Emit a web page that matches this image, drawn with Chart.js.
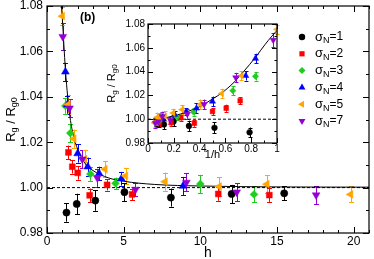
<!DOCTYPE html>
<html><head><meta charset="utf-8">
<script src="https://cdn.jsdelivr.net/npm/chart.js@4/dist/chart.umd.min.js"></script>
<style>
html,body{margin:0;padding:0;background:#fff;}
#wrap{position:relative;width:374px;height:259px;overflow:hidden;background:#fff;}
#main{position:absolute;left:0;top:0;}
#inset{position:absolute;left:100px;top:14px;}
</style></head><body>
<div id="wrap"><canvas id="main" width="374" height="259"></canvas><canvas id="inset" width="185" height="150"></canvas></div>
<script>
// ---------------- data ----------------
const sigmaN = [1, 2, 3, 4, 5, 7];

const h_s1 = [1.27, 1.94, 3.15, 5.05, 8.08, 12.04, 15.47];
const r_s1 = [0.989, 0.9928, 0.9943, 0.998, 0.9956, 0.9972, 0.9975];
const e_s1 = [0.004, 0.0045, 0.0045, 0.004, 0.004, 0.004, 0.003];

const h_s2 = [1.40, 1.65, 2.0, 2.78, 3.92, 5.55, 11.17, 14.5];
const r_s2 = [1.0155, 1.0092, 1.0065, 0.9966, 1.0012, 0.997, 0.9972, 0.9967];
const e_s2 = [0.003, 0.003, 0.003, 0.003, 0.0025, 0.0025, 0.003, 0.003];

const h_s3 = [1.2, 1.52, 2.83, 4.47, 10.0, 13.5];
const r_s3 = [1.036, 1.024, 1.006, 1.0019, 1.0016, 0.997];
const e_s3 = [0.0035, 0.004, 0.003, 0.0025, 0.004, 0.0035];

const h_s4 = [1.2, 1.32, 2.0, 2.66, 3.4, 4.85, 8.87];
const r_s4 = [1.051, 1.0365, 1.015, 1.0092, 1.0062, 1.0039, 1.0007];
const e_s4 = [0.004, 0.004, 0.004, 0.004, 0.003, 0.003, 0.004];

const h_s5 = [1.0, 1.38, 1.75, 2.46, 3.78, 5.12, 7.7, 11.23, 14.34, 19.8];
const r_s5 = [1.0755, 1.0366, 1.0215, 1.0125, 1.0081, 1.0052, 1.0026, 1.0005, 1.0015, 0.997];
const e_s5 = [0.004, 0.004, 0.004, 0.004, 0.0035, 0.0035, 0.004, 0.004, 0.004, 0.0035];

const h_s7 = [1.03, 1.47, 2.3, 3.28, 5.77, 9.09, 12.37, 17.55];
const r_s7 = [1.0665, 1.035, 1.0125, 1.0043, 0.9992, 1.0023, 0.998, 0.9967];
const e_s7 = [0.006, 0.004, 0.004, 0.004, 0.003, 0.004, 0.004, 0.004];

// fitted curve
const fitH = [0.94, 1.0, 1.1, 1.2, 1.35, 1.5, 1.75, 2.0, 2.5, 3.0, 4.0, 5.0, 7.0, 10, 15, 21];
const fitR = [1.080, 1.0745, 1.063, 1.052, 1.040, 1.031, 1.022, 1.017, 1.0105, 1.0075, 1.0043, 1.0028, 1.0014, 1.0007, 1.0003, 1.0002];

const refH = [0, 21];
const refR = [1.0, 1.0];
const refInvH = [0, 1];

const mainXTicks = [0, 5, 10, 15, 20];
const mainYTicks = [0.98, 1.00, 1.02, 1.04, 1.06, 1.08];
const insetXTicks = [0, 0.2, 0.4, 0.6, 0.8, 1];
const insetYTicks = [0.98, 1.00, 1.02, 1.04, 1.06, 1.08];

// ---------------- styles ----------------
const FONT = "'Liberation Sans', Arial, Helvetica, sans-serif";
Chart.defaults.font.family = FONT;
Chart.defaults.color = '#000';

const seriesH = [h_s1, h_s2, h_s3, h_s4, h_s5, h_s7];
const seriesR = [r_s1, r_s2, r_s3, r_s4, r_s5, r_s7];
const seriesE = [e_s1, e_s2, e_s3, e_s4, e_s5, e_s7];
const styles = [
  {color:'#000000', pointStyle:'circle', rotation:0, r:4},
  {color:'#ff0000', pointStyle:'rect', rotation:0, r:4.6},
  {color:'#1fcc1f', pointStyle:'rectRot', rotation:0, r:4.4},
  {color:'#0000ff', pointStyle:'triangle', rotation:0, r:5},
  {color:'#ffa500', pointStyle:'triangle', rotation:-90, r:5},
  {color:'#9400d3', pointStyle:'triangle', rotation:180, r:5}
];

function buildDatasets(inv, scale) {
  const ds = [];
  for (let k = seriesH.length - 1; k >= 0; k--) {
    const st = styles[k];
    ds.push({
      data: seriesH[k].map((h, i) => ({x: inv ? 1 / h : h, y: seriesR[k][i]})),
      err: seriesE[k],
      pointStyle: st.pointStyle, rotation: st.rotation,
      pointRadius: st.r * scale, pointHoverRadius: st.r * scale,
      backgroundColor: st.color, borderColor: st.color, borderWidth: 0.5,
      showLine: false
    });
  }
  let fit = fitH.map((h, i) => ({x: inv ? 1 / h : h, y: fitR[i]}));
  if (inv) fit = fit.slice().reverse();
  ds.push({data: fit, showLine: true, borderColor:'#000', borderWidth:1, pointRadius:0,
           cubicInterpolationMode:'monotone', fill:false});
  const refX = inv ? refInvH : refH;
  ds.push({data: refX.map((x, i) => ({x, y: refR[i]})), showLine: true, borderColor:'#000',
           borderWidth:1, borderDash:[3,2], pointRadius:0, fill:false});
  return ds;
}

function richText(ctx, parts, cx, cy) {
  let total = 0;
  parts.forEach(p => { ctx.font = p[1] + 'px ' + FONT; total += ctx.measureText(p[0]).width; });
  let x = cx - total / 2;
  ctx.textBaseline = 'middle'; ctx.textAlign = 'left';
  parts.forEach(p => { ctx.font = p[1] + 'px ' + FONT; ctx.fillText(p[0], x, cy + p[2]); x += ctx.measureText(p[0]).width; });
}

function makeDecor(cfg) {
  return {
    id: 'decor' + cfg.name,
    beforeDatasetsDraw(chart) {
      const ctx = chart.ctx, xs = chart.scales.x, ys = chart.scales.y;
      ctx.save();
      ctx.lineWidth = 1;
      chart.data.datasets.forEach(ds => {
        if (!ds.err) return;
        ctx.strokeStyle = ds.borderColor;
        ds.data.forEach((p, i) => {
          if (p.x < xs.min || p.x > xs.max) return;
          const x = Math.round(xs.getPixelForValue(p.x)) + 0.5;
          const y1 = ys.getPixelForValue(p.y - ds.err[i]);
          const y2 = ys.getPixelForValue(p.y + ds.err[i]);
          ctx.beginPath();
          ctx.moveTo(x, y1); ctx.lineTo(x, y2);
          ctx.moveTo(x - cfg.cap, Math.round(y1) + 0.5); ctx.lineTo(x + cfg.cap, Math.round(y1) + 0.5);
          ctx.moveTo(x - cfg.cap, Math.round(y2) + 0.5); ctx.lineTo(x + cfg.cap, Math.round(y2) + 0.5);
          ctx.stroke();
        });
      });
      ctx.restore();
    },
    afterDraw(chart) {
      const ctx = chart.ctx, a = chart.chartArea, xs = chart.scales.x, ys = chart.scales.y;
      ctx.save();
      ctx.strokeStyle = '#000'; ctx.fillStyle = '#000';
      ctx.lineWidth = 1.2;
      ctx.strokeRect(a.left, a.top, a.right - a.left, a.bottom - a.top);
      ctx.lineWidth = 1;
      ctx.beginPath();
      let n = Math.round((xs.max - xs.min) / cfg.xMinor);
      for (let k = 0; k <= n; k++) {
        const v = xs.min + k * cfg.xMinor;
        const q = v / cfg.xMajor;
        const L = Math.abs(q - Math.round(q)) < 1e-6 ? cfg.major : cfg.minor;
        const x = Math.round(xs.getPixelForValue(v)) + 0.5;
        ctx.moveTo(x, a.bottom); ctx.lineTo(x, a.bottom - L);
        ctx.moveTo(x, a.top); ctx.lineTo(x, a.top + L);
      }
      n = Math.round((ys.max - ys.min) / cfg.yMinor);
      for (let k = 0; k <= n; k++) {
        const v = ys.min + k * cfg.yMinor;
        const q = (v - ys.min) / cfg.yMajor;
        const L = Math.abs(q - Math.round(q)) < 1e-6 ? cfg.major : cfg.minor;
        const y = Math.round(ys.getPixelForValue(v)) + 0.5;
        ctx.moveTo(a.left, y); ctx.lineTo(a.left + L, y);
        ctx.moveTo(a.right, y); ctx.lineTo(a.right - L, y);
      }
      ctx.stroke();

      // x title
      ctx.textAlign = 'center'; ctx.textBaseline = 'middle';
      ctx.font = cfg.xTitleSize + 'px ' + FONT;
      ctx.fillText(cfg.xTitle, (a.left + a.right) / 2, a.bottom + cfg.xTitleOff);
      // y title, rotated with subscripts
      ctx.save();
      ctx.translate(cfg.yTitleX, (a.top + a.bottom) / 2);
      ctx.rotate(-Math.PI / 2);
      const s = cfg.yTitleSize, ss = Math.round(s * 0.7), d = Math.round(s * 0.28);
      richText(ctx, [['R', s, 0], ['g', ss, d], [' / ', s, 0], ['R', s, 0], ['g0', ss, d]], 0, 0);
      ctx.restore();

      if (cfg.legend) {
        ctx.font = 'bold 12px ' + FONT;
        ctx.textAlign = 'left'; ctx.textBaseline = 'middle';
        ctx.fillText('(b)', a.left + 33, a.top + 12);
        const lx = a.right - 67, ly = a.top + 31, step = 16.8;
        sigmaN.forEach((sg, k) => {
          const st = styles[k];
          const y = ly + k * step;
          ctx.fillStyle = st.color; ctx.strokeStyle = st.color;
          Chart.helpers.drawPoint(ctx, {pointStyle: st.pointStyle, rotation: st.rotation, radius: st.r * 0.8, borderWidth: 0}, lx, y);
          ctx.fillStyle = '#000';
          let x = lx + 13;
          ctx.textBaseline = 'middle'; ctx.textAlign = 'left';
          ctx.font = '13px ' + FONT; ctx.fillText('σ', x, y); x += ctx.measureText('σ').width;
          ctx.font = '9px ' + FONT; ctx.fillText('N', x, y + 4); x += ctx.measureText('N').width;
          ctx.font = '12px ' + FONT; ctx.fillText('=' + sg, x, y);
        });
      }
      ctx.restore();
    }
  };
}

function axes(xr, yr, xt, yt, fs, xPad, yPad, yW, xH, xfmt) {
  return {
    x: {type:'linear', min:xr[0], max:xr[1],
        afterBuildTicks: s => { s.ticks = xt.map(v => ({value:v})); },
        ticks:{padding:xPad, font:{size:fs}, maxRotation:0, autoSkip:false, callback: xfmt},
        grid:{display:false, drawTicks:false, tickLength:0}, border:{display:false},
        afterFit: s => { s.height = xH; s.paddingLeft = 0; s.paddingRight = 0; }},
    y: {type:'linear', min:yr[0], max:yr[1],
        afterBuildTicks: s => { s.ticks = yt.map(v => ({value:v})); },
        ticks:{padding:yPad, font:{size:fs}, autoSkip:false, callback: v => v.toFixed(2)},
        grid:{display:false, drawTicks:false, tickLength:0}, border:{display:false},
        afterFit: s => { s.width = yW; s.paddingTop = 0; s.paddingBottom = 0; }}
  };
}

new Chart(document.getElementById('main'), {
  type: 'scatter',
  data: {datasets: buildDatasets(false, 0.9)},
  options: {
    responsive:false, animation:false, devicePixelRatio:1,
    layout:{padding:{left:0, right:2, top:6, bottom:0}},
    plugins:{legend:{display:false}, tooltip:{enabled:false}},
    scales: axes([0, 21], [0.98, 1.08], mainXTicks, mainYTicks, 12, 1, 4, 47, 26, v => String(v))
  },
  plugins: [makeDecor({name:'m', cap:2.5, major:6, minor:3, xMinor:1, xMajor:5, yMinor:0.01, yMajor:0.02,
    xTitle:'h', xTitleSize:14, xTitleOff:20, yTitleX:11, yTitleSize:13, legend:true})]
});

new Chart(document.getElementById('inset'), {
  type: 'scatter',
  data: {datasets: buildDatasets(true, 0.72)},
  options: {
    responsive:false, animation:false, devicePixelRatio:1,
    layout:{padding:{left:0, right:8, top:10, bottom:0}},
    plugins:{legend:{display:false}, tooltip:{enabled:false}},
    scales: axes([0, 1], [0.98, 1.08], insetXTicks, insetYTicks, 10, 0, 3, 48, 21,
      v => (v === 0 || v === 1) ? String(v) : v.toFixed(1))
  },
  plugins: [makeDecor({name:'i', cap:2, major:5, minor:2.5, xMinor:0.1, xMajor:0.2, yMinor:0.01, yMajor:0.02,
    xTitle:'1/h', xTitleSize:11, xTitleOff:12, yTitleX:12, yTitleSize:11, legend:false})]
});
</script>
</body></html>
